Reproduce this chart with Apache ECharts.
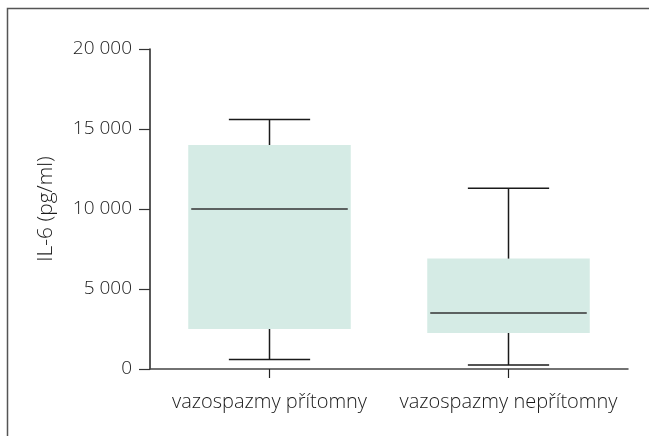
<!DOCTYPE html>
<html>
<head>
<meta charset="utf-8">
<script src="https://cdn.jsdelivr.net/npm/echarts@6/dist/echarts.min.js"></script>
<style>
  html, body { margin: 0; padding: 0; background: #fff; }
  #chart { width: 649px; height: 436px; }
</style>
</head>
<body>
<div id="chart"></div>
<script>
const categories = ["vazospazmy přítomny", "vazospazmy nepřítomny"];
const whiskerLow = [600, 250];
const q1 = [2500, 2250];
const median = [10000, 3500];
const q3 = [14000, 6900];
const whiskerHigh = [15600, 11300];

const boxData = categories.map((c, i) => [i, whiskerLow[i], q1[i], median[i], q3[i], whiskerHigh[i]]);

const chart = echarts.init(document.getElementById("chart"));

const renderBox = (params, api) => {
    const idx = api.value(0);
    const band = api.size([1, 0])[0];
    const boxW = band * 0.68;
    const capW = boxW * 0.5;
    const cx = api.coord([idx, 0])[0];
    const yLow = api.coord([idx, api.value(1)])[1];
    const yQ1 = api.coord([idx, api.value(2)])[1];
    const yMed = api.coord([idx, api.value(3)])[1];
    const yQ3 = api.coord([idx, api.value(4)])[1];
    const yHigh = api.coord([idx, api.value(5)])[1];
    const line = { stroke: "#1a1a1a", lineWidth: 1.5 };
    return {
        type: "group",
        children: [
            { type: "rect", shape: { x: cx - boxW / 2, y: yQ3, width: boxW, height: yQ1 - yQ3 }, style: { fill: "#d5ebe5" } },
            { type: "line", shape: { x1: cx - boxW / 2 + 3, y1: yMed, x2: cx + boxW / 2 - 3, y2: yMed }, style: { stroke: "#333", lineWidth: 1.5 } },
            { type: "line", shape: { x1: cx, y1: yQ3, x2: cx, y2: yHigh }, style: line },
            { type: "line", shape: { x1: cx, y1: yQ1, x2: cx, y2: yLow }, style: line },
            { type: "line", shape: { x1: cx - capW / 2, y1: yHigh, x2: cx + capW / 2, y2: yHigh }, style: line },
            { type: "line", shape: { x1: cx - capW / 2, y1: yLow, x2: cx + capW / 2, y2: yLow }, style: line }
        ]
    };
};

const option = {
    animation: false,
    textStyle: { fontFamily: "Open Sans", fontWeight: 300 },
    graphic: [
        {
            type: "rect",
            shape: { x: 7.5, y: 8.5, width: 700, height: 500 },
            style: { fill: "none", stroke: "#555", lineWidth: 1.5 },
            silent: true
        }
    ],
    grid: { left: 150, top: 49, right: 21, bottom: 67 },
    xAxis: {
        type: "category",
        data: categories,
        boundaryGap: true,
        axisLine: { show: true, lineStyle: { color: "#444", width: 1.5 } },
        axisTick: { show: true, alignWithLabel: true, interval: 0, length: 9, lineStyle: { color: "#222", width: 1.2 } },
        axisLabel: { interval: 0, color: "#1a1a1a", fontSize: 20, fontWeight: 300, margin: 23, hideOverlap: false }
    },
    yAxis: {
        type: "value",
        min: 0,
        max: 20000,
        interval: 5000,
        name: "IL-6 (pg/ml)",
        nameLocation: "middle",
        nameGap: 93,
        nameRotate: 90,
        nameTextStyle: { color: "#1a1a1a", fontSize: 21, fontWeight: 300 },
        axisLine: { show: true, lineStyle: { color: "#222", width: 1.5 } },
        axisTick: { show: true, length: 11, lineStyle: { color: "#333", width: 1.2 } },
        splitLine: { show: false },
        axisLabel: {
            color: "#1a1a1a",
            fontSize: 19,
            fontWeight: 300,
            margin: 18,
            formatter: v => String(v).replace(/\B(?=(\d{3})+(?!\d))/g, " ")
        }
    },
    series: [
        {
            type: "custom",
            renderItem: renderBox,
            encode: { x: 0, y: [1, 2, 3, 4, 5] },
            data: boxData
        }
    ]
};

chart.setOption(option);
</script>
</body>
</html>
